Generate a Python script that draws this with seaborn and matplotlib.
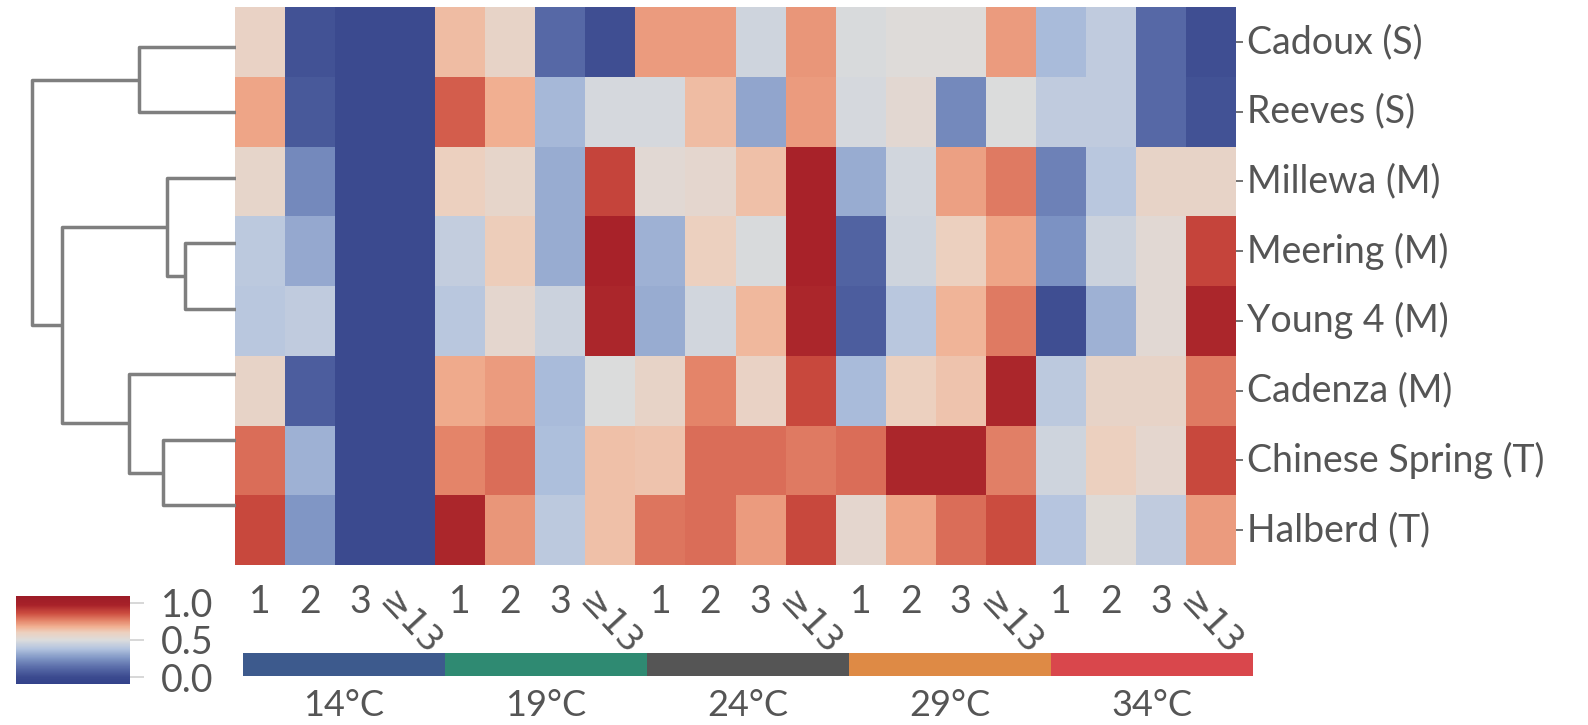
import numpy as np
import pandas as pd
import matplotlib
matplotlib.use("Agg")
import matplotlib.pyplot as plt
import seaborn as sns
from matplotlib.colors import LinearSegmentedColormap, ListedColormap

# ---- data -----------------------------------------------------------------
varieties = ["Cadoux (S)", "Reeves (S)", "Millewa (M)", "Meering (M)",
             "Young 4 (M)", "Cadenza (M)", "Chinese Spring (T)", "Halberd (T)"]
stages = ["1", "2", "3", "≥13"]
temperatures = ["14°C", "19°C", "24°C", "29°C", "34°C"]
columns = stages * len(temperatures)

cadoux  = [0.58, 0.03, 0.00, 0.00, 0.65, 0.57, 0.12, 0.02, 0.72, 0.72, 0.46, 0.73, 0.49, 0.51, 0.51, 0.72, 0.36, 0.42, 0.12, 0.02]
reeves  = [0.70, 0.06, 0.00, 0.00, 0.83, 0.68, 0.35, 0.48, 0.48, 0.65, 0.30, 0.72, 0.48, 0.54, 0.22, 0.50, 0.42, 0.42, 0.12, 0.03]
millewa = [0.56, 0.22, 0.00, 0.00, 0.60, 0.56, 0.32, 0.88, 0.53, 0.55, 0.64, 0.97, 0.32, 0.47, 0.71, 0.78, 0.20, 0.40, 0.57, 0.57]
meering = [0.41, 0.31, 0.00, 0.00, 0.43, 0.61, 0.32, 0.97, 0.33, 0.60, 0.49, 0.97, 0.10, 0.46, 0.60, 0.70, 0.25, 0.45, 0.53, 0.88]
young4  = [0.40, 0.42, 0.00, 0.00, 0.40, 0.55, 0.45, 0.96, 0.32, 0.47, 0.66, 0.96, 0.08, 0.40, 0.67, 0.78, 0.02, 0.33, 0.53, 0.96]
cadenza = [0.57, 0.08, 0.00, 0.00, 0.69, 0.72, 0.36, 0.50, 0.57, 0.76, 0.58, 0.87, 0.36, 0.60, 0.63, 0.96, 0.41, 0.57, 0.57, 0.78]
chinese = [0.80, 0.33, 0.00, 0.00, 0.76, 0.80, 0.37, 0.64, 0.63, 0.80, 0.80, 0.78, 0.80, 0.96, 0.96, 0.77, 0.46, 0.60, 0.55, 0.87]
halberd = [0.87, 0.26, 0.00, 0.00, 0.96, 0.73, 0.41, 0.64, 0.79, 0.80, 0.72, 0.87, 0.55, 0.70, 0.80, 0.86, 0.39, 0.52, 0.42, 0.72]

# hierarchical clustering of the varieties (leaf indices follow `varieties`)
link_left    = [3, 2, 6, 0, 5, 9, 11]
link_right   = [4, 8, 7, 1, 10, 12, 13]
link_heights = [0.250, 0.339, 0.359, 0.478, 0.523, 0.856, 1.000]

temp_colors = ["#3d5a8d", "#2f8a72", "#555555", "#de8a45", "#d9474c"]

# ---- styling --------------------------------------------------------------
sns.set_theme(style="white")
plt.rcParams["font.family"] = ["Lato", "DejaVu Sans"]
TXT = "#555555"
FS = 27

vmin, vmax = -0.09, 1.09
stops = [(-0.09, "#33428a"), (0.00, "#3b4a8f"), (0.12, "#5668a6"),
         (0.25, "#7d93c3"), (0.38, "#b2c3df"), (0.50, "#dcdcdc"),
         (0.60, "#ecd0bf"), (0.68, "#f1b092"), (0.76, "#e4856a"),
         (0.86, "#cc4d40"), (0.97, "#a82229"), (1.09, "#9b1b27")]
cmap = LinearSegmentedColormap.from_list(
    "heat", [((v - vmin) / (vmax - vmin), c) for v, c in stops])

df = pd.DataFrame([cadoux, reeves, millewa, meering, young4, cadenza, chinese, halberd],
                  index=varieties, columns=range(len(columns)))

W, H = 1588, 725
fig = plt.figure(figsize=(W / 100, H / 100), dpi=100)


def box(x0, y0, x1, y1):
    return [x0 / W, 1 - y1 / H, (x1 - x0) / W, (y1 - y0) / H]


ax = fig.add_axes(box(235, 7, 1236, 565))
cax = fig.add_axes(box(16, 596, 130, 684))
dax = fig.add_axes(box(22, 14, 236, 538))
sax = fig.add_axes(box(243, 653, 1253, 676))

# ---- heatmap --------------------------------------------------------------
sns.heatmap(df, ax=ax, cmap=cmap, vmin=vmin, vmax=vmax, cbar_ax=cax,
            cbar_kws={"ticks": [0.0, 0.5, 1.0], "format": "%.1f"},
            xticklabels=columns, yticklabels=varieties)
ax.set_xlabel("")
ax.set_ylabel("")
ax.yaxis.tick_right()
ax.tick_params(axis="y", left=False, right=True, length=5, width=1.3,
               color="#666666", labelsize=FS, labelcolor=TXT, pad=3)
ax.tick_params(axis="x", bottom=True, length=0, labelsize=FS,
               labelcolor=TXT, pad=14)
for t in ax.get_yticklabels():
    t.set_rotation(0)
    t.set_va("center")
for t in ax.get_xticklabels():
    if t.get_text().startswith("≥"):
        t.set_rotation(-47)
        t.set_fontfamily(["DejaVu Sans"])
        t.set_fontsize(FS - 2)
    else:
        t.set_rotation(0)
    t.set_ha("center")

cbar = ax.collections[0].colorbar
cbar.outline.set_visible(False)
cbar.ax.tick_params(labelsize=FS, labelcolor=TXT, color="#d4d4d4",
                    length=10, width=1.3, pad=12, right=True)

# ---- row dendrogram -------------------------------------------------------
pos = {i: i + 0.5 for i in range(len(varieties))}
hgt = {i: 0.0 for i in range(len(varieties))}
for k, (a, b, h) in enumerate(zip(link_left, link_right, link_heights)):
    node = len(varieties) + k
    dax.plot([hgt[a], h, h, hgt[b]], [pos[a], pos[a], pos[b], pos[b]],
             color="#7f7f7f", lw=2.5, solid_capstyle="butt")
    pos[node] = (pos[a] + pos[b]) / 2
    hgt[node] = h
dax.set_xlim(max(link_heights) * 1.05, 0)
dax.set_ylim(len(varieties), 0)
dax.axis("off")

# ---- temperature strip ----------------------------------------------------
sns.heatmap(np.arange(len(temperatures)).reshape(1, -1), ax=sax,
            cmap=ListedColormap(temp_colors), cbar=False,
            xticklabels=temperatures, yticklabels=False)
sax.tick_params(axis="x", bottom=True, length=0, labelsize=FS - 1,
                labelcolor=TXT, pad=9, rotation=0)
sax.tick_params(axis="y", left=False, right=False)

fig.savefig("out.png", dpi=100)
